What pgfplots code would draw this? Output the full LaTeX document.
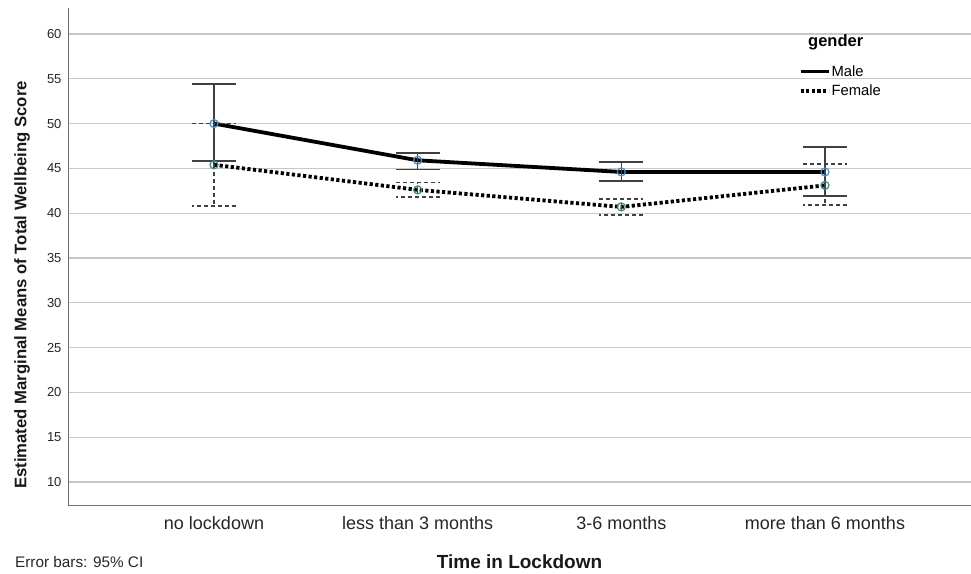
\documentclass[border=0pt]{standalone}
\usepackage{pgfplots}
\pgfplotsset{compat=1.18}
\usepackage{fontspec}
\setmainfont{Liberation Sans}
\definecolor{gridc}{HTML}{C8C8C8}
\definecolor{axc}{HTML}{707070}
\definecolor{errc}{HTML}{404040}
\definecolor{mblue}{HTML}{3D8FD0}
\definecolor{mteal}{HTML}{3A8A8E}
\begin{document}
\begin{tikzpicture}[x=1pt,y=1pt]
\useasboundingbox (0,0) rectangle (971,573);
\begin{axis}[
  at={(68pt,68pt)}, anchor=south west,
  scale only axis, width=903pt, height=497pt,
  xmin=-0.717, xmax=3.717, ymin=7.43, ymax=62.9,
  axis x line*=bottom, axis y line*=left,
  axis line style={axc, line width=1pt, -},
  xtick={0,1,2,3},
  xticklabels={no lockdown, less than 3 months, 3-6 months, more than 6 months},
  ytick={10,15,...,60},
  major tick length=0pt,
  ymajorgrids, grid style={gridc, line width=1.1pt},
  x tick label style={font=\fontsize{18}{20}\selectfont, yshift=-8pt, color=black!85},
  y tick label style={font=\fontsize{13}{15}\selectfont, xshift=-3pt, color=black!85},
  /pgf/number format/assume math mode=true,
  clip=false,
  legend style={draw=none, fill=none, at={(rel axis cs:0.809,0.887)}, anchor=north west,
    font=\fontsize{14.8}{17}\selectfont, row sep=5pt, inner sep=0pt,
    nodes={inner sep=1pt}},
  legend cell align=left,
  legend image code/.code={\draw[#1] (0pt,0pt) -- (28pt,0pt);},
]
% Male line with 95% CI error bars
\addplot[black, line width=3.8pt, line join=round,
  error bars/.cd, y dir=both, y explicit,
  error bar style={solid, errc, line width=1.5pt},
  error mark options={rotate=90, mark size=22pt, errc, line width=1.5pt, solid}]
coordinates {
 (0,50.0) += (0,4.4) -= (0,4.2)
 (1,45.9) += (0,0.8) -= (0,1.0)
 (2,44.6) += (0,1.1) -= (0,1.0)
 (3,44.6) += (0,2.8) -= (0,2.7)
};
\addlegendentry{Male}
% Female line with 95% CI error bars
\addplot[black, line width=3.8pt, dash pattern=on 3.2pt off 2.4pt,
  error bars/.cd, y dir=both, y explicit,
  error bar style={errc, line width=1.5pt, dash pattern=on 4pt off 3pt},
  error mark options={rotate=90, mark size=22pt, errc, line width=1.5pt, dash pattern=on 4pt off 3pt}]
coordinates {
 (0,45.4) += (0,4.6) -= (0,4.6)
 (1,42.6) += (0,0.8) -= (0,0.8)
 (2,40.7) += (0,0.9) -= (0,0.9)
 (3,43.1) += (0,2.4) -= (0,2.2)
};
\addlegendentry{Female}
\addplot[only marks, mark=o, mark size=4pt, mark options={mblue, line width=1.2pt, solid}, forget plot]
coordinates {(0,50.0) (1,45.9) (2,44.6) (3,44.6)};
\addplot[only marks, mark=o, mark size=4pt, mark options={mteal, line width=1.2pt, solid}, forget plot]
coordinates {(0,45.4) (1,42.6) (2,40.7) (3,43.1)};
\node[anchor=west, inner sep=0pt, font=\fontsize{16.5}{18}\selectfont\bfseries] at (rel axis cs:0.8195,0.9316) {gender};
\end{axis}
\node[rotate=90, font=\fontsize{16.7}{19}\selectfont\bfseries, color=black!90] at (22,288) {Estimated Marginal Means of Total Wellbeing Score};
\node[font=\fontsize{19}{21}\selectfont\bfseries, color=black!90] at (519.5,11) {Time in Lockdown};
\node[anchor=west, inner sep=0pt, font=\fontsize{15.3}{17}\selectfont, color=black!85] at (15,11) {Error bars: 95\% CI};
\end{tikzpicture}
\end{document}
